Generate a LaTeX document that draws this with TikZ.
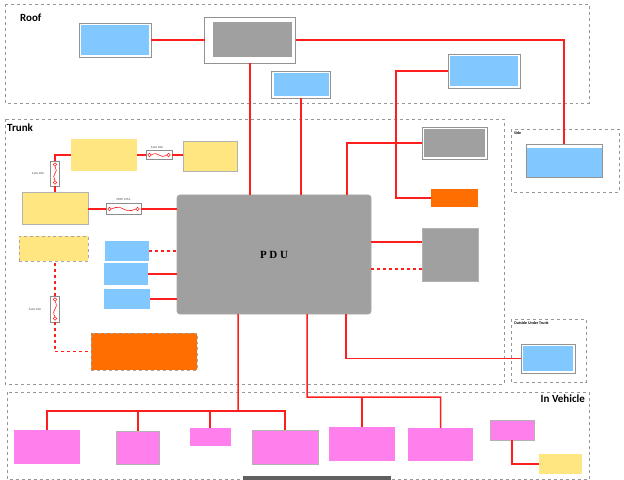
\documentclass[tikz,border=0pt]{standalone}
\usepackage{fontspec}
\setmainfont{Carlito}
\newfontfamily\pdufont{Liberation Serif}
\usetikzlibrary{positioning,calc}

\definecolor{boxblue}{RGB}{128,200,255}
\definecolor{boxyellow}{RGB}{255,230,128}
\definecolor{boxorange}{RGB}{255,110,0}
\definecolor{boxpink}{RGB}{255,128,236}
\definecolor{boxgray}{RGB}{160,160,160}
\definecolor{wirered}{RGB}{255,30,30}
\definecolor{zonegray}{RGB}{150,150,150}

\tikzset{
	zone/.style={draw=zonegray, dashed, line width=0.7bp},
	zonelabel/.style={font=\fontsize{11}{13}\selectfont\bfseries, inner sep=0pt},
	smalllabel/.style={font=\fontsize{4}{5}\selectfont\bfseries, inner sep=0pt, anchor=north west},
	fuselabel/.style={font=\fontsize{3.2}{4}\selectfont, text=black!70, inner sep=0pt},
	wire/.style={draw=wirered, line width=1.5bp},
	plainbox/.style={fill=#1, inner sep=0pt, outer sep=0pt},
	framebox/.style={draw=gray!85, line width=0.8bp, fill=white, inner sep=0pt, outer sep=0pt,
		path picture={\fill[#1] ([shift={(2bp,-2bp)}]path picture bounding box.north west)
			rectangle ([shift={(-2bp,2bp)}]path picture bounding box.south east);}},
	topstrip/.style={draw=gray!85, line width=0.8bp, fill=white, inner sep=0pt, outer sep=0pt,
		path picture={\fill[#1] ([shift={(0bp,-4bp)}]path picture bounding box.north west)
			rectangle (path picture bounding box.south east);}},
	hfuse/.style={draw=gray!90, line width=0.6bp, fill=white, inner sep=0pt, outer sep=0pt,
		path picture={
			\draw[wirered, line width=0.6bp] ([xshift=3.5bp]path picture bounding box.west) circle (1.8bp)
				([xshift=-3.5bp]path picture bounding box.east) circle (1.8bp);
			\draw[wirered, line width=0.6bp] ([xshift=5.3bp]path picture bounding box.west)
				to[out=40,in=180] ([shift={(-3bp,1.3bp)}]path picture bounding box.center)
				to[out=0,in=180] ([shift={(3bp,-1.3bp)}]path picture bounding box.center)
				to[out=0,in=220] ([xshift=-5.3bp]path picture bounding box.east);}},
	vfuse/.style={draw=gray!90, line width=0.6bp, fill=white, inner sep=0pt, outer sep=0pt,
		path picture={
			\draw[wirered, line width=0.6bp] ([yshift=-3.5bp]path picture bounding box.north) circle (1.8bp)
				([yshift=3.5bp]path picture bounding box.south) circle (1.8bp);
			\draw[wirered, line width=0.6bp] ([yshift=-5.3bp]path picture bounding box.north)
				to[out=-50,in=90] ([shift={(1.3bp,3bp)}]path picture bounding box.center)
				to[out=-90,in=90] ([shift={(-1.3bp,-3bp)}]path picture bounding box.center)
				to[out=-90,in=130] ([yshift=5.3bp]path picture bounding box.south);}},
}

\begin{document}
\begin{tikzpicture}[x=1bp, y=-1bp]
	\useasboundingbox (0,0) rectangle (624,480);

	% zones
	\draw[zone] (5,4) rectangle (589,103);
	\draw[zone] (5,119) rectangle (504,384);
	\draw[zone] (511,129) rectangle (619,192);
	\draw[zone] (511,319) rectangle (586,382);
	\draw[zone] (7,392) rectangle (589,479);
	\node[zonelabel, anchor=west] (roof) at (20,18) {Roof};
	\node[zonelabel, anchor=west] (trunk) at (7,128) {Trunk};
	\node[zonelabel, anchor=north east] (invehicle) at (585,395) {In Vehicle};
	\node[smalllabel] (side) at (514,132) {Side};
	\node[smalllabel] (outside) at (514,322) {Outside Under Trunk};

	\begin{scope}
		\tikzstyle{every node}=[inner sep=0pt, outer sep=0pt]
		% roof
		\node[framebox=boxblue, minimum width=72bp, minimum height=34bp] (roofbl) at (115,40) {};
		\node[draw=gray!85, line width=0.8bp, fill=white, minimum width=91bp, minimum height=46bp] (roofgf) at (250,40) {};
		\node[plainbox=boxgray, minimum width=79bp, minimum height=35bp] (roofg) at (252.5,39.5) {};
		\node[framebox=boxblue, minimum width=59bp, minimum height=27bp] (roofbs) at (301,84.5) {};
		\node[framebox=boxblue, minimum width=72bp, minimum height=34bp] (roofbr) at (484,71) {};
		\node[topstrip=boxblue, minimum width=76bp, minimum height=33bp] (sideb) at (564,160.5) {};

		% trunk
		\node[plainbox=boxyellow, minimum width=66bp, minimum height=32bp] (ytop) at (104,155) {};
		\node[hfuse, minimum width=26bp, minimum height=9bp] (f30) at (159,155) {};
		\node[fuselabel] (f30l) at (157,147) {Auto 30A};
		\node[plainbox=boxyellow, draw=gray!60, minimum width=54bp, minimum height=30bp] (ytr) at (210,156) {};
		\node[vfuse, minimum width=9bp, minimum height=25bp] (f20) at (55,173.5) {};
		\node[fuselabel] (f20l) at (38,173) {Auto 20A};
		\node[plainbox=boxyellow, draw=gray!60, minimum width=66bp, minimum height=32bp] (ymid) at (55,208) {};
		\node[hfuse, minimum width=35bp, minimum height=11bp] (f125) at (123.5,209) {};
		\node[fuselabel] (f125l) at (123.5,199) {MIDI 125A};
		\node[plainbox=boxyellow, draw=gray!70, dashed, minimum width=69bp, minimum height=25bp] (ydash) at (53.5,248.5) {};
		\node[vfuse, minimum width=9bp, minimum height=26bp] (f10) at (55,309) {};
		\node[fuselabel] (f10l) at (35,309) {Auto 10A};
		\node[plainbox=boxorange, draw=gray!70, dashed, minimum width=106bp, minimum height=37bp] (obig) at (144,351.5) {};
		\node[plainbox=boxblue, minimum width=44bp, minimum height=20bp] (bl1) at (127,251) {};
		\node[plainbox=boxblue, minimum width=44bp, minimum height=22bp] (bl2) at (126,274) {};
		\node[plainbox=boxblue, minimum width=46bp, minimum height=20bp] (bl3) at (127,299) {};
		\node[fill=boxgray, draw=gray!70, line width=0.8bp, rounded corners=3bp, minimum width=194bp, minimum height=119bp,
			font=\pdufont\fontsize{11}{13}\selectfont\bfseries] (pdu) at (274,254.5) {P D U};
		\node[framebox=boxgray, minimum width=65bp, minimum height=32bp] (trg) at (454.5,143) {};
		\node[plainbox=boxorange, minimum width=47bp, minimum height=18bp] (osm) at (454.5,198) {};
		\node[plainbox=boxgray, draw=gray!60, minimum width=56bp, minimum height=53bp] (trg2) at (450,254.5) {};
		\node[framebox=boxblue, minimum width=54bp, minimum height=29bp] (outb) at (548,358.5) {};

		% in vehicle
		\node[plainbox=boxpink, minimum width=66bp, minimum height=34bp] (pv1) at (47,447) {};
		\node[plainbox=boxpink, draw=gray!60, minimum width=43bp, minimum height=33bp] (pv2) at (138,447.5) {};
		\node[plainbox=boxpink, minimum width=41bp, minimum height=18bp] (pv3) at (210,437) {};
		\node[plainbox=boxpink, draw=gray!60, minimum width=66bp, minimum height=34bp] (pv4) at (285,447) {};
		\node[plainbox=boxpink, minimum width=66bp, minimum height=34bp] (pv5) at (362,444) {};
		\node[plainbox=boxpink, minimum width=65bp, minimum height=33bp] (pv6) at (440.5,444.5) {};
		\node[plainbox=boxpink, draw=gray!60, minimum width=44bp, minimum height=20bp] (pv7) at (512,430) {};
		\node[plainbox=boxyellow, minimum width=43bp, minimum height=20bp] (yv) at (560.5,464) {};
		\node[plainbox=gray!75!black, minimum width=148bp, minimum height=8bp] (bar) at (317,480) {};
		\coordinate (busa) at (238,411);
		\coordinate (busb) at (307,397);
	\end{scope}

	% wires
	\draw[wire] (roofbl.east) -- (roofgf.west);
	\draw[wire] (roofgf.east) -| (sideb.north);
	\draw[wire] (roofgf.south) -- (roofgf.south |- pdu.north);
	\draw[wire] (roofbs.south) -- (roofbs.south |- pdu.north);
	\draw[wire] (trg.west) -| ([xshift=73bp]pdu.north);
	\draw[wire] (roofbr.west) -| ([xshift=-35bp]osm.west) -- (osm.west);
	\draw[wire] (ytop.east) -- (f30.west);
	\draw[wire] (f30.east) -- (f30.east -| ytr.west);
	\draw[wire] (ytop.west) -| (f20.north);
	\draw[wire] (f20.south) -- (ymid.north);
	\draw[wire] (ymid.east |- f125.west) -- (f125.west);
	\draw[wire] (f125.east) -- (f125.east -| pdu.west);
	\draw[wire, dashed] (f10.north) -- (f10.north |- ydash.south);
	\draw[wire, dashed] (f10.south) |- (obig.west);
	\draw[wire, dashed] (bl1.east) -- (bl1.east -| pdu.west);
	\draw[wire] (bl2.east) -- (bl2.east -| pdu.west);
	\draw[wire] (bl3.east) -- (bl3.east -| pdu.west);
	\draw[wire] ([yshift=12.5bp]trg2.west) -- ([yshift=12.5bp]trg2.west -| pdu.east);
	\draw[wire, dashed] ([yshift=-14.5bp]trg2.west) -- ([yshift=-14.5bp]trg2.west -| pdu.east);
	\draw[wire] ([xshift=72bp]pdu.south) |- (outb.west);
	\draw[wire] ([xshift=-36bp]pdu.south) -- (busa);
	\draw[wire] (pv1.north) |- (busa);
	\draw[wire] (pv4.north) |- (busa);
	\draw[wire] (pv2.north) -- (pv2.north |- busa);
	\draw[wire] (pv3.north) -- (pv3.north |- busa);
	\draw[wire] ([xshift=33bp]pdu.south) -- (busb) -| (pv6.north);
	\draw[wire] (pv5.north) -- (pv5.north |- busb);
	\draw[wire] (pv7.south) |- (yv.west);
\end{tikzpicture}
\end{document}
